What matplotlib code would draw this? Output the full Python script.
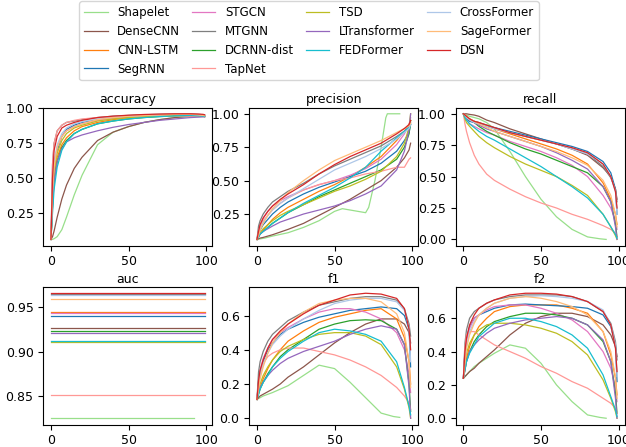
import matplotlib
matplotlib.use("Agg")
import matplotlib.pyplot as plt

xs = [0, 1, 2, 4, 7, 10, 15, 20, 30, 40, 50, 60, 70, 80, 90, 95, 98, 99]
# Shapelet stops earlier
xs_sh = [0, 1, 2, 4, 7, 10, 15, 20, 30, 40, 50, 60, 70, 80, 88, 92]
xs_sh_prec = [0, 5, 10, 20, 30, 40, 50, 55, 60, 65, 70, 72, 76, 80, 83, 84, 92]

models = ["Shapelet", "DenseCNN", "CNN-LSTM", "SegRNN", "STGCN", "MTGNN", "DCRNN-dist",
          "TapNet", "TSD", "LTransformer", "FEDFormer", "CrossFormer", "SageFormer", "DSN"]
colors = ["#98df8a", "#8c564b", "#ff7f0e", "#1f77b4", "#e377c2", "#7f7f7f", "#2ca02c",
          "#ff9896", "#bcbd22", "#9467bd", "#17becf", "#aec7e8", "#ffbb78", "#d62728"]

accuracy = {
    "Shapelet": [0.06, 0.06, 0.065, 0.08, 0.13, 0.22, 0.38, 0.52, 0.74, 0.83, 0.87, 0.9, 0.92, 0.935, 0.94, 0.94],
    "DenseCNN": [0.06, 0.08, 0.12, 0.22, 0.35, 0.45, 0.57, 0.65, 0.77, 0.83, 0.87, 0.9, 0.92, 0.935, 0.945, 0.948, 0.948, 0.946],
    "CNN-LSTM": [0.06, 0.3, 0.5, 0.65, 0.74, 0.79, 0.84, 0.87, 0.9, 0.92, 0.935, 0.945, 0.95, 0.952, 0.952, 0.95, 0.948, 0.945],
    "SegRNN": [0.06, 0.4, 0.58, 0.7, 0.8, 0.85, 0.88, 0.9, 0.92, 0.935, 0.945, 0.95, 0.955, 0.957, 0.957, 0.955, 0.952, 0.95],
    "STGCN": [0.06, 0.42, 0.6, 0.72, 0.8, 0.84, 0.87, 0.89, 0.915, 0.93, 0.94, 0.948, 0.952, 0.955, 0.955, 0.953, 0.95, 0.948],
    "MTGNN": [0.06, 0.6, 0.75, 0.84, 0.88, 0.9, 0.91, 0.92, 0.935, 0.945, 0.95, 0.955, 0.958, 0.96, 0.96, 0.958, 0.955, 0.952],
    "DCRNN-dist": [0.06, 0.3, 0.48, 0.62, 0.72, 0.77, 0.82, 0.85, 0.89, 0.91, 0.925, 0.935, 0.942, 0.947, 0.95, 0.948, 0.945, 0.942],
    "TapNet": [0.06, 0.6, 0.75, 0.84, 0.88, 0.9, 0.915, 0.925, 0.935, 0.94, 0.943, 0.945, 0.945, 0.945, 0.944, 0.943, 0.942, 0.94],
    "TSD": [0.06, 0.35, 0.55, 0.68, 0.77, 0.82, 0.86, 0.88, 0.91, 0.925, 0.935, 0.94, 0.945, 0.948, 0.95, 0.948, 0.945, 0.943],
    "LTransformer": [0.06, 0.3, 0.48, 0.62, 0.71, 0.76, 0.79, 0.81, 0.84, 0.865, 0.885, 0.9, 0.915, 0.925, 0.935, 0.938, 0.94, 0.94],
    "FEDFormer": [0.06, 0.25, 0.42, 0.58, 0.7, 0.76, 0.82, 0.85, 0.89, 0.91, 0.925, 0.935, 0.942, 0.947, 0.95, 0.948, 0.945, 0.942],
    "CrossFormer": [0.06, 0.45, 0.62, 0.74, 0.82, 0.86, 0.89, 0.905, 0.925, 0.94, 0.945, 0.95, 0.955, 0.958, 0.958, 0.955, 0.952, 0.95],
    "SageFormer": [0.06, 0.4, 0.58, 0.72, 0.8, 0.84, 0.87, 0.89, 0.92, 0.935, 0.945, 0.95, 0.955, 0.958, 0.958, 0.955, 0.95, 0.948],
    "DSN": [0.06, 0.5, 0.7, 0.8, 0.86, 0.88, 0.9, 0.915, 0.935, 0.945, 0.952, 0.957, 0.96, 0.962, 0.962, 0.96, 0.958, 0.955],
}

precision = {
    "Shapelet": [0.06, 0.07, 0.085, 0.11, 0.15, 0.2, 0.27, 0.29, 0.28, 0.27, 0.26, 0.3, 0.5, 0.75, 0.97, 1.0, 1.0],
    "DenseCNN": [0.06, 0.065, 0.07, 0.075, 0.085, 0.095, 0.115, 0.135, 0.18, 0.24, 0.3, 0.36, 0.43, 0.5, 0.6, 0.67, 0.73, 0.78],
    "CNN-LSTM": [0.06, 0.08, 0.1, 0.13, 0.17, 0.21, 0.26, 0.3, 0.36, 0.42, 0.47, 0.53, 0.6, 0.68, 0.8, 0.87, 0.92, 0.95],
    "SegRNN": [0.06, 0.1, 0.13, 0.17, 0.21, 0.25, 0.3, 0.34, 0.4, 0.45, 0.49, 0.53, 0.57, 0.63, 0.72, 0.8, 0.86, 0.92],
    "STGCN": [0.06, 0.12, 0.17, 0.22, 0.27, 0.31, 0.35, 0.38, 0.43, 0.47, 0.5, 0.54, 0.59, 0.66, 0.77, 0.85, 0.92, 0.97],
    "MTGNN": [0.06, 0.16, 0.2, 0.25, 0.3, 0.34, 0.38, 0.42, 0.48, 0.55, 0.61, 0.66, 0.71, 0.76, 0.83, 0.87, 0.9, 0.93],
    "DCRNN-dist": [0.06, 0.08, 0.1, 0.12, 0.15, 0.18, 0.22, 0.26, 0.32, 0.38, 0.43, 0.48, 0.53, 0.58, 0.66, 0.75, 0.85, 0.95],
    "TapNet": [0.06, 0.12, 0.16, 0.2, 0.24, 0.28, 0.33, 0.37, 0.43, 0.47, 0.5, 0.52, 0.55, 0.57, 0.6, 0.6, 0.66, 0.67],
    "TSD": [0.06, 0.09, 0.11, 0.14, 0.17, 0.2, 0.24, 0.27, 0.32, 0.37, 0.42, 0.46, 0.51, 0.57, 0.68, 0.78, 0.9, 1.0],
    "LTransformer": [0.06, 0.08, 0.1, 0.12, 0.14, 0.16, 0.19, 0.21, 0.25, 0.28, 0.31, 0.35, 0.4, 0.46, 0.58, 0.72, 0.88, 1.0],
    "FEDFormer": [0.06, 0.08, 0.1, 0.12, 0.15, 0.18, 0.22, 0.26, 0.33, 0.39, 0.45, 0.52, 0.6, 0.72, 0.82, 0.87, 0.9, 0.92],
    "CrossFormer": [0.06, 0.1, 0.14, 0.19, 0.24, 0.28, 0.33, 0.37, 0.44, 0.51, 0.58, 0.63, 0.68, 0.74, 0.81, 0.86, 0.89, 0.92],
    "SageFormer": [0.06, 0.09, 0.13, 0.18, 0.24, 0.29, 0.35, 0.41, 0.5, 0.58, 0.65, 0.7, 0.75, 0.8, 0.86, 0.89, 0.91, 0.93],
    "DSN": [0.06, 0.12, 0.17, 0.22, 0.27, 0.31, 0.36, 0.4, 0.47, 0.55, 0.62, 0.68, 0.73, 0.78, 0.85, 0.89, 0.92, 0.95],
}

recall = {
    "Shapelet": [1.0, 0.995, 0.99, 0.98, 0.97, 0.96, 0.93, 0.88, 0.7, 0.5, 0.32, 0.18, 0.08, 0.02, 0.005, 0.0],
    "DenseCNN": [1.0, 1.0, 1.0, 0.995, 0.99, 0.98, 0.95, 0.93, 0.88, 0.84, 0.8, 0.76, 0.72, 0.67, 0.57, 0.5, 0.4, 0.32],
    "CNN-LSTM": [1.0, 0.99, 0.98, 0.96, 0.94, 0.93, 0.9, 0.88, 0.84, 0.8, 0.76, 0.72, 0.67, 0.6, 0.45, 0.32, 0.2, 0.12],
    "SegRNN": [1.0, 0.98, 0.96, 0.94, 0.93, 0.92, 0.9, 0.89, 0.86, 0.83, 0.8, 0.77, 0.74, 0.7, 0.62, 0.53, 0.4, 0.2],
    "STGCN": [1.0, 0.97, 0.95, 0.92, 0.9, 0.88, 0.85, 0.83, 0.78, 0.74, 0.7, 0.65, 0.59, 0.5, 0.35, 0.25, 0.15, 0.08],
    "MTGNN": [1.0, 0.98, 0.97, 0.95, 0.94, 0.93, 0.91, 0.89, 0.85, 0.82, 0.79, 0.76, 0.72, 0.68, 0.58, 0.49, 0.4, 0.3],
    "DCRNN-dist": [1.0, 0.98, 0.97, 0.95, 0.93, 0.9, 0.86, 0.83, 0.77, 0.72, 0.68, 0.63, 0.58, 0.53, 0.42, 0.3, 0.12, 0.02],
    "TapNet": [1.0, 0.92, 0.86, 0.77, 0.67, 0.6, 0.52, 0.47, 0.4, 0.34, 0.29, 0.25, 0.2, 0.16, 0.11, 0.08, 0.05, 0.03],
    "TSD": [1.0, 0.96, 0.93, 0.9, 0.86, 0.82, 0.77, 0.73, 0.66, 0.6, 0.55, 0.5, 0.43, 0.35, 0.2, 0.1, 0.03, 0.0],
    "LTransformer": [1.0, 0.98, 0.97, 0.95, 0.93, 0.91, 0.88, 0.86, 0.82, 0.78, 0.74, 0.69, 0.63, 0.56, 0.42, 0.3, 0.1, 0.0],
    "FEDFormer": [1.0, 0.97, 0.95, 0.92, 0.89, 0.86, 0.82, 0.79, 0.72, 0.65, 0.58, 0.5, 0.42, 0.33, 0.2, 0.1, 0.04, 0.01],
    "CrossFormer": [1.0, 0.99, 0.97, 0.95, 0.93, 0.92, 0.9, 0.88, 0.85, 0.82, 0.79, 0.76, 0.72, 0.68, 0.6, 0.5, 0.38, 0.2],
    "SageFormer": [1.0, 0.99, 0.98, 0.96, 0.94, 0.92, 0.89, 0.86, 0.82, 0.78, 0.74, 0.7, 0.65, 0.59, 0.47, 0.35, 0.2, 0.1],
    "DSN": [1.0, 0.99, 0.98, 0.96, 0.94, 0.93, 0.91, 0.89, 0.85, 0.82, 0.79, 0.76, 0.73, 0.69, 0.6, 0.5, 0.38, 0.25],
}

auc = {
    "Shapelet": 0.8248, "DenseCNN": 0.9263, "CNN-LSTM": 0.9451, "SegRNN": 0.9406,
    "STGCN": 0.9440, "MTGNN": 0.9650, "DCRNN-dist": 0.9229, "TapNet": 0.8508,
    "TSD": 0.9113, "LTransformer": 0.9210, "FEDFormer": 0.9124, "CrossFormer": 0.9643,
    "SageFormer": 0.9598, "DSN": 0.9658,
}

f1 = {
    "Shapelet": [0.11, 0.115, 0.12, 0.13, 0.14, 0.15, 0.17, 0.19, 0.25, 0.31, 0.29, 0.21, 0.12, 0.03, 0.01, 0.005],
    "DenseCNN": [0.11, 0.12, 0.13, 0.14, 0.155, 0.17, 0.2, 0.24, 0.3, 0.37, 0.44, 0.5, 0.55, 0.58, 0.58, 0.55, 0.5, 0.44],
    "CNN-LSTM": [0.11, 0.15, 0.18, 0.23, 0.29, 0.34, 0.4, 0.45, 0.51, 0.56, 0.59, 0.61, 0.63, 0.64, 0.58, 0.47, 0.33, 0.2],
    "SegRNN": [0.11, 0.2, 0.27, 0.33, 0.4, 0.44, 0.49, 0.52, 0.56, 0.59, 0.61, 0.63, 0.64, 0.65, 0.64, 0.6, 0.52, 0.3],
    "STGCN": [0.11, 0.22, 0.28, 0.35, 0.41, 0.46, 0.5, 0.53, 0.58, 0.62, 0.64, 0.64, 0.62, 0.58, 0.5, 0.4, 0.26, 0.15],
    "MTGNN": [0.11, 0.27, 0.33, 0.39, 0.45, 0.49, 0.53, 0.57, 0.62, 0.66, 0.68, 0.7, 0.71, 0.71, 0.69, 0.64, 0.55, 0.48],
    "DCRNN-dist": [0.11, 0.14, 0.17, 0.21, 0.26, 0.3, 0.36, 0.4, 0.46, 0.52, 0.55, 0.57, 0.575, 0.57, 0.52, 0.43, 0.2, 0.04],
    "TapNet": [0.11, 0.2, 0.26, 0.32, 0.36, 0.38, 0.4, 0.41, 0.41, 0.39, 0.37, 0.34, 0.3, 0.25, 0.18, 0.13, 0.09, 0.05],
    "TSD": [0.11, 0.16, 0.2, 0.25, 0.3, 0.34, 0.39, 0.42, 0.46, 0.49, 0.5, 0.5, 0.48, 0.43, 0.3, 0.17, 0.06, 0.0],
    "LTransformer": [0.11, 0.15, 0.18, 0.21, 0.25, 0.28, 0.32, 0.35, 0.39, 0.42, 0.45, 0.49, 0.52, 0.54, 0.52, 0.43, 0.18, 0.0],
    "FEDFormer": [0.11, 0.14, 0.17, 0.21, 0.25, 0.3, 0.35, 0.39, 0.45, 0.5, 0.52, 0.51, 0.49, 0.45, 0.33, 0.18, 0.07, 0.02],
    "CrossFormer": [0.11, 0.19, 0.25, 0.32, 0.38, 0.43, 0.48, 0.52, 0.58, 0.63, 0.67, 0.69, 0.7, 0.7, 0.68, 0.63, 0.53, 0.33],
    "SageFormer": [0.11, 0.17, 0.23, 0.3, 0.38, 0.44, 0.5, 0.55, 0.62, 0.67, 0.69, 0.7, 0.7, 0.68, 0.61, 0.5, 0.33, 0.18],
    "DSN": [0.11, 0.22, 0.28, 0.34, 0.41, 0.46, 0.51, 0.55, 0.61, 0.66, 0.69, 0.72, 0.73, 0.725, 0.7, 0.64, 0.52, 0.4],
}

f2 = {
    "Shapelet": [0.24, 0.25, 0.26, 0.28, 0.31, 0.33, 0.36, 0.39, 0.44, 0.42, 0.33, 0.2, 0.1, 0.02, 0.005, 0.0],
    "DenseCNN": [0.24, 0.25, 0.26, 0.28, 0.3, 0.33, 0.37, 0.41, 0.5, 0.57, 0.61, 0.63, 0.63, 0.61, 0.56, 0.5, 0.43, 0.37],
    "CNN-LSTM": [0.24, 0.3, 0.36, 0.43, 0.5, 0.55, 0.6, 0.64, 0.67, 0.68, 0.68, 0.68, 0.66, 0.63, 0.52, 0.38, 0.24, 0.14],
    "SegRNN": [0.24, 0.4, 0.48, 0.55, 0.6, 0.62, 0.64, 0.66, 0.68, 0.685, 0.68, 0.675, 0.67, 0.66, 0.62, 0.55, 0.44, 0.22],
    "STGCN": [0.24, 0.38, 0.46, 0.54, 0.6, 0.62, 0.65, 0.67, 0.68, 0.68, 0.66, 0.63, 0.59, 0.52, 0.4, 0.3, 0.19, 0.1],
    "MTGNN": [0.24, 0.45, 0.53, 0.6, 0.64, 0.66, 0.69, 0.71, 0.73, 0.74, 0.74, 0.74, 0.73, 0.7, 0.64, 0.57, 0.46, 0.35],
    "DCRNN-dist": [0.24, 0.29, 0.34, 0.4, 0.46, 0.5, 0.55, 0.58, 0.61, 0.63, 0.63, 0.62, 0.6, 0.56, 0.46, 0.34, 0.15, 0.03],
    "TapNet": [0.24, 0.42, 0.5, 0.52, 0.52, 0.5, 0.47, 0.44, 0.4, 0.36, 0.31, 0.27, 0.22, 0.18, 0.12, 0.09, 0.06, 0.03],
    "TSD": [0.24, 0.33, 0.39, 0.45, 0.5, 0.53, 0.56, 0.57, 0.57, 0.56, 0.54, 0.51, 0.46, 0.38, 0.23, 0.12, 0.04, 0.0],
    "LTransformer": [0.24, 0.29, 0.34, 0.4, 0.44, 0.47, 0.51, 0.54, 0.57, 0.59, 0.6, 0.61, 0.6, 0.56, 0.47, 0.34, 0.12, 0.0],
    "FEDFormer": [0.24, 0.29, 0.34, 0.39, 0.44, 0.49, 0.53, 0.57, 0.6, 0.6, 0.58, 0.55, 0.5, 0.42, 0.26, 0.13, 0.05, 0.01],
    "CrossFormer": [0.24, 0.36, 0.43, 0.52, 0.58, 0.62, 0.66, 0.69, 0.72, 0.73, 0.735, 0.73, 0.72, 0.7, 0.65, 0.56, 0.44, 0.25],
    "SageFormer": [0.24, 0.33, 0.42, 0.5, 0.57, 0.62, 0.66, 0.69, 0.72, 0.73, 0.72, 0.7, 0.67, 0.62, 0.52, 0.4, 0.25, 0.12],
    "DSN": [0.24, 0.4, 0.48, 0.56, 0.62, 0.66, 0.69, 0.71, 0.74, 0.75, 0.75, 0.745, 0.73, 0.7, 0.64, 0.56, 0.42, 0.28],
}

fig = plt.figure(figsize=(6.26, 4.47), dpi=100)

W, H = 626, 447
def box(left, top, right, bottom):
    return [left / W, 1 - bottom / H, (right - left) / W, (bottom - top) / H]

lefts = [43.3, 249.3, 455.7]
axes = []
for r, (top, bot) in enumerate([(107.5, 245.7), (287.0, 424.5)]):
    for c in range(3):
        axes.append(fig.add_axes(box(lefts[c], top, lefts[c] + 169, bot)))

metrics = [("accuracy", accuracy), ("precision", precision), ("recall", recall),
           ("auc", auc), ("f1", f1), ("f2", f2)]

handles = []
for ax, (name, data) in zip(axes, metrics):
    for m, col in zip(models, colors):
        if m == "Shapelet":
            x = xs_sh_prec if name == "precision" else xs_sh
        else:
            x = xs
        if name == "auc":
            y = [data[m]] * len(x)
        else:
            y = data[m]
        line, = ax.plot(x, y, color=col, lw=0.9, label=m)
        if name == "accuracy":
            handles.append(line)
    ax.set_title(name, fontsize=9, pad=3)
    ax.tick_params(labelsize=9)
    ax.set_xticks([0, 50, 100])

axes[0].set_yticks([0.25, 0.5, 0.75, 1.0])
axes[1].set_yticks([0.25, 0.5, 0.75, 1.0])
axes[2].set_yticks([0.0, 0.25, 0.5, 0.75, 1.0])
axes[3].set_yticks([0.85, 0.9, 0.95])
for ax in axes[4:]:
    ax.set_yticks([0.0, 0.2, 0.4, 0.6])

fig.legend(handles, models, loc="upper center", ncol=4, fontsize=8.5,
           columnspacing=1.0, borderaxespad=0.1,
           bbox_to_anchor=(309 / W, 1.0))

fig.savefig("out.png", dpi=100)
